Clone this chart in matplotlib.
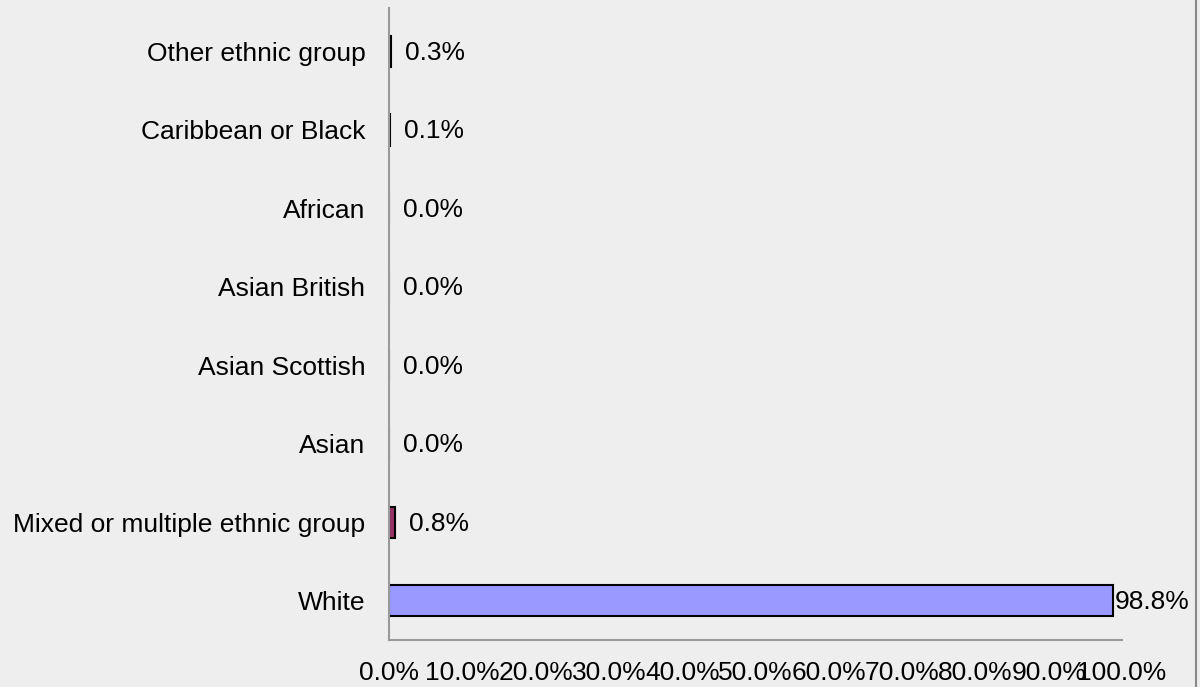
import matplotlib
matplotlib.use("Agg")
import matplotlib.pyplot as plt
from matplotlib.lines import Line2D

plt.rcParams['font.family'] = ['Liberation Sans', 'DejaVu Sans']

categories = ['White', 'Mixed or multiple ethnic group', 'Asian', 'Asian Scottish',
              'Asian British', 'African', 'Caribbean or Black', 'Other ethnic group']
shares = [98.8, 0.8, 0.0, 0.0, 0.0, 0.0, 0.1, 0.3]
bar_colors = ['#9999FF', '#993366', '#FFFFCC', '#CCFFFF',
              '#660066', '#FF8080', '#0066CC', '#CCCCFF']
xticks = [0, 10, 20, 30, 40, 50, 60, 70, 80, 90, 100]

bg = '#EEEEEE'
fs = 19
fig = plt.figure(figsize=(12, 6.87), dpi=100, facecolor=bg)
ax = fig.add_axes([0.3242, 0.0684, 0.6108, 0.9196], facecolor=bg)

ypos = list(range(len(categories)))
ax.barh(ypos, shares, height=0.4, color=bar_colors, edgecolor='black', linewidth=1.5)

for y, v in zip(ypos, shares):
    # labels of tiny bars sit a bit away from the axis
    off = 1 if v > 90 else 10
    ax.annotate('{:.1f}%'.format(v), (v, y), xytext=(off, -1), textcoords='offset points',
                ha='left', va='center', fontsize=fs, color='black')

ax.set_xlim(0, 100)
ax.set_ylim(-0.5, 7.55)
ax.set_yticks(ypos)
ax.set_yticklabels(categories)
ax.set_xticks(xticks)
ax.set_xticklabels(['{:.1f}%'.format(t) for t in xticks])
ax.tick_params(axis='y', length=0, pad=17, labelsize=fs)
ax.tick_params(axis='x', length=0, pad=15, labelsize=fs)

for s in ['top', 'right']:
    ax.spines[s].set_visible(False)
for s in ['left', 'bottom']:
    ax.spines[s].set_color('#999999')
    ax.spines[s].set_linewidth(1.5)

# thin frame line at right edge of the picture
fig.add_artist(Line2D([0.9967, 0.9967], [0, 1], color='#888888', linewidth=1.5))

fig.savefig('out.png', dpi=100, facecolor=bg)
